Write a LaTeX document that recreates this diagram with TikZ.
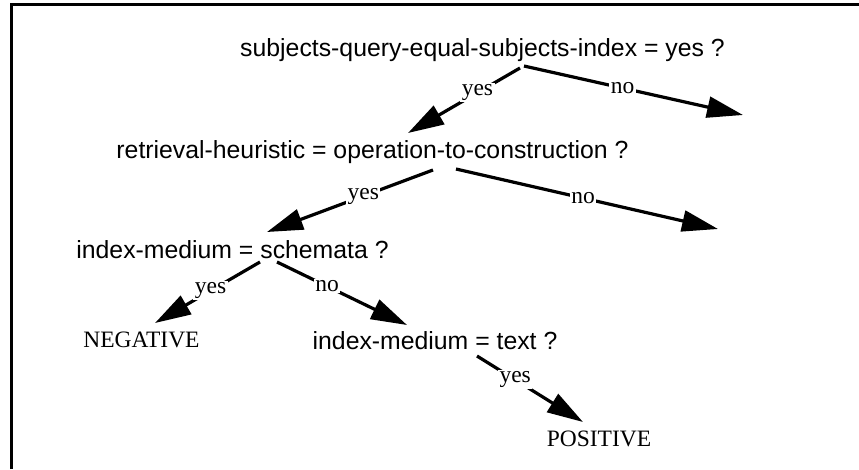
\documentclass[tikz,border=0pt]{standalone}
\usepackage{fontspec}
\setmainfont{Liberation Serif}
\newfontfamily\sansf{Liberation Sans}
\usetikzlibrary{arrows.meta,calc}
\begin{document}
\begin{tikzpicture}[x=1pt,y=-1pt,
  qbox/.style={font={\sansf\fontsize{24.8}{28}\selectfont}, inner sep=0pt, anchor=base},
  leaf/.style={font={\fontsize{23.5}{28}\selectfont}, inner sep=0pt, anchor=base},
  lab/.style={font={\fontsize{23.5}{26}\selectfont}, fill=white, inner sep=1.5pt},
  arr/.style={line width=3.2pt, -{Triangle[length=36pt,width=21pt]}},
  frame/.style={line width=2.5pt}]
\useasboundingbox (0,0) rectangle (859,469);
% frame (top and left only)
\coordinate (fbl) at (11.3,469);
\coordinate (ftl) at (11.3,4.5);
\coordinate (ftr) at (859,4.5);
\draw[frame] (fbl) -- (ftl) -- (ftr);
% nodes
\node[qbox] (q1) at (482.5,56) {subjects-query-equal-subjects-index = yes ?};
\node[qbox] (q2) at (372.5,158) {retrieval-heuristic = operation-to-construction ?};
\node[qbox] (q3) at (232.5,258) {index-medium = schemata ?};
\node[leaf] (neg) at (141.5,347) {NEGATIVE};
\node[qbox] (q4) at (435,349) {index-medium = text ?};
\node[leaf] (pos) at (599,446) {POSITIVE};
% free ends
\coordinate (q1no) at (743,115);
\coordinate (q2no) at (718,229);
% connectors
\draw[arr] ($(q1.base)+(37.5,12)$) -- node[lab,pos=0.38]{yes} ($(q2.base)+(35.5,-25)$);
\draw[arr] ($(q1.base)+(41.5,10)$) -- node[lab,pos=0.45]{no} (q1no);
\draw[arr] ($(q2.base)+(60.5,12)$) -- node[lab,pos=0.42]{yes} ($(q3.base)+(34.5,-26)$);
\draw[arr] ($(q2.base)+(83.5,11)$) -- node[lab,pos=0.485]{no} (q2no);
\draw[arr] ($(q3.base)+(27.5,4)$) -- node[lab,pos=0.47]{yes} ($(neg.base)+(13.5,-24)$);
\draw[arr] ($(q3.base)+(44.5,4)$) -- node[lab,pos=0.385]{no} ($(q4.base)+(-28,-24)$);
\draw[arr] ($(q4.base)+(42,7)$) -- node[lab,pos=0.36]{yes} ($(pos.base)+(-16,-24)$);
\end{tikzpicture}
\end{document}
